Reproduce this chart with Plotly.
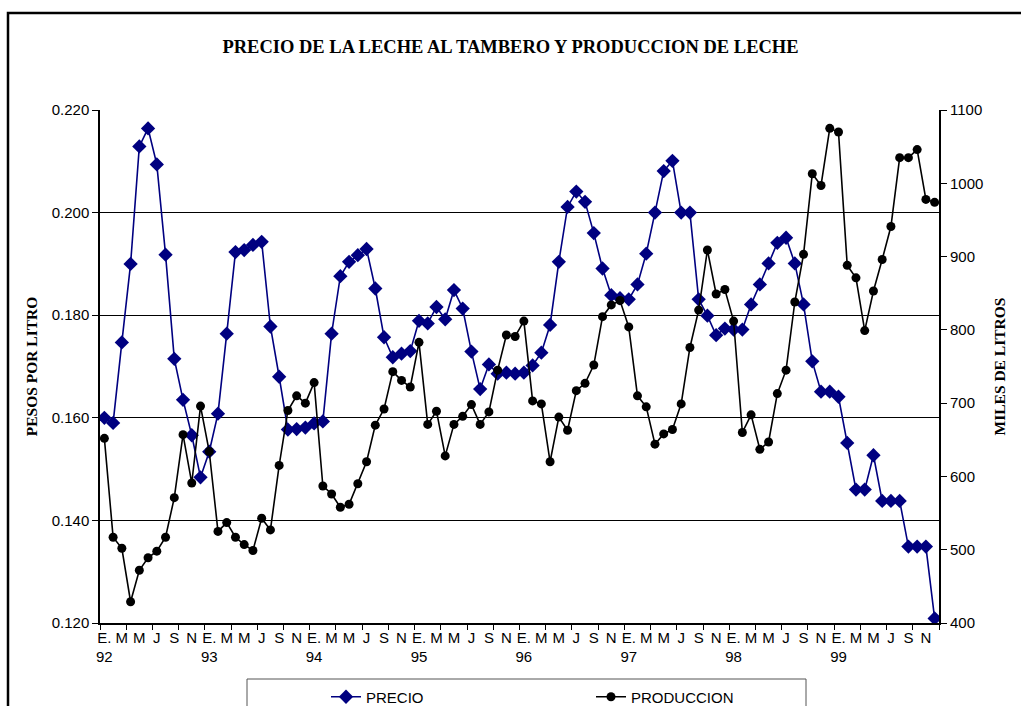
import plotly.graph_objects as go

# Monthly series, January 1992 to December 1999
years = ["92", "93", "94", "95", "96", "97", "98", "99"]
month_labels = ["E.", "M", "M", "J", "S", "N"]  # every other month

precio = [
    0.1600, 0.1590, 0.1747, 0.1900, 0.2129, 0.2164, 0.2094, 0.1918, 0.1715, 0.1635, 0.1566, 0.1484,
    0.1534, 0.1608, 0.1764, 0.1923, 0.1927, 0.1937, 0.1943, 0.1778, 0.1680, 0.1577, 0.1578, 0.1581,
    0.1589, 0.1593, 0.1764, 0.1876, 0.1904, 0.1917, 0.1929, 0.1852, 0.1757, 0.1718, 0.1725, 0.1730,
    0.1789, 0.1784, 0.1816, 0.1792, 0.1849, 0.1813, 0.1729, 0.1656, 0.1704, 0.1686, 0.1688, 0.1686,
    0.1688, 0.1702, 0.1727, 0.1781, 0.1904, 0.2011, 0.2041, 0.2021, 0.1960, 0.1891, 0.1839, 0.1833,
    0.1831, 0.1860, 0.1920, 0.2000, 0.2081, 0.2101, 0.2000, 0.2000, 0.1831, 0.1799, 0.1761, 0.1774,
    0.1772, 0.1772, 0.1821, 0.1860, 0.1901, 0.1941, 0.1951, 0.1901, 0.1821, 0.1710, 0.1651, 0.1651,
    0.1641, 0.1551, 0.1460, 0.1460, 0.1527, 0.1438, 0.1438, 0.1438, 0.1349, 0.1349, 0.1349, 0.1209,
]

produccion = [
    652, 517, 502, 429, 472, 489, 498, 517, 571, 657, 591, 696,
    634, 525, 537, 517, 507, 499, 543, 527, 615, 690, 710, 700,
    728, 587, 576, 558, 562, 590, 620, 670, 692, 743, 731, 722,
    783, 671, 689, 628, 671, 682, 698, 671, 688, 745, 793, 791,
    812, 703, 699, 620, 681, 663, 717, 727, 752, 818, 834, 840,
    804, 710, 695, 644, 658, 664, 699, 776, 827, 909, 849, 855,
    812, 660, 684, 637, 647, 713, 745, 838, 903, 1013, 997, 1075,
    1070, 888, 871, 799, 853, 896, 941, 1035, 1035, 1046, 978, 974,
]

n = len(precio)
x = list(range(n))

# Category labels every two months, year under January
tickvals = list(range(0, n, 2))
ticktext = []
for i in tickvals:
    lab = month_labels[(i % 12) // 2]
    if i % 12 == 0:
        lab = lab + "<br>" + years[i // 12]
    ticktext.append(lab)

# Tick marks every three months, between categories
minor_ticks = [k - 0.5 for k in range(0, n + 1, 3)]

fig = go.Figure()
fig.add_trace(go.Scatter(
    x=x, y=precio, name="PRECIO", mode="lines+markers",
    line=dict(color="#000080", width=1.6),
    marker=dict(symbol="diamond", size=11, color="#000080"),
))
fig.add_trace(go.Scatter(
    x=x, y=produccion, name="PRODUCCION", mode="lines+markers", yaxis="y2",
    line=dict(color="#000000", width=1.6),
    marker=dict(symbol="circle", size=9, color="#000000"),
))

L, R, T, B = 100, 82, 110, 83
W, H = 1021, 706
pw, ph = W - L - R, H - T - B


def px_x(p):
    return (p - L) / pw


def px_y(p):
    return (H - B - p) / ph


SANS = "Liberation Sans, Arial, sans-serif"
SERIF = "Liberation Serif, Times New Roman, serif"

fig.update_layout(
    width=W, height=H,
    margin=dict(l=L, r=R, t=T, b=B, autoexpand=False),
    paper_bgcolor="white", plot_bgcolor="white",
    font=dict(family=SANS, size=15, color="black"),
    title=dict(
        text="<b>PRECIO DE LA LECHE AL TAMBERO Y PRODUCCION DE LECHE</b>",
        font=dict(family=SERIF, size=18.5, color="black"),
        x=0.5, xanchor="center", y=1 - 47 / H, yanchor="middle",
    ),
    xaxis=dict(
        range=[-0.5, n - 0.5],
        tickmode="array", tickvals=tickvals, ticktext=ticktext,
        ticks="outside", ticklen=0, tickcolor="rgba(0,0,0,0)",
        tickfont=dict(size=15),
        showgrid=False, zeroline=False,
        showline=True, linecolor="black", linewidth=1.5,
        minor=dict(tickmode="array", tickvals=minor_ticks, ticks="outside",
                   ticklen=5, tickcolor="black", tickwidth=1, showgrid=False),
    ),
    yaxis=dict(
        range=[0.12, 0.22], dtick=0.02, tick0=0.12, tickformat=".3f",
        ticks="outside", ticklen=6, tickcolor="black",
        showgrid=True, gridcolor="black", gridwidth=1,
        zeroline=False, showline=True, linecolor="black", linewidth=1.5,
        title=dict(text="<b>PESOS POR LITRO</b>", standoff=10,
                   font=dict(family=SERIF, size=15.5)),
        tickfont=dict(size=15),
    ),
    yaxis2=dict(
        range=[400, 1100], dtick=100, tick0=400, overlaying="y", side="right",
        ticks="outside", ticklen=6, tickcolor="black",
        showgrid=False, zeroline=False,
        showline=True, linecolor="black", linewidth=2,
        title=dict(text="<b>MILES DE LITROS</b>", standoff=12,
                   font=dict(family=SERIF, size=15.5)),
        tickfont=dict(size=15),
    ),
    showlegend=True,
    legend=dict(
        orientation="h", x=px_x(326), xanchor="left", y=px_y(697), yanchor="middle",
        bgcolor="rgba(0,0,0,0)", borderwidth=0,
        font=dict(size=15, family=SANS),
        entrywidth=220, entrywidthmode="pixels", itemwidth=30,
    ),
    shapes=[
        # outer chart frame
        dict(type="rect", xref="paper", yref="paper",
             x0=px_x(8), x1=px_x(W + 20), y0=px_y(H + 20), y1=px_y(13),
             line=dict(color="black", width=2.5), fillcolor="rgba(0,0,0,0)", layer="below"),
        # legend frame
        dict(type="rect", xref="paper", yref="paper",
             x0=px_x(247), x1=px_x(806), y0=px_y(H + 20), y1=px_y(679),
             line=dict(color="#555555", width=1), fillcolor="rgba(0,0,0,0)", layer="below"),
    ],
)

fig.write_html("out.html")
